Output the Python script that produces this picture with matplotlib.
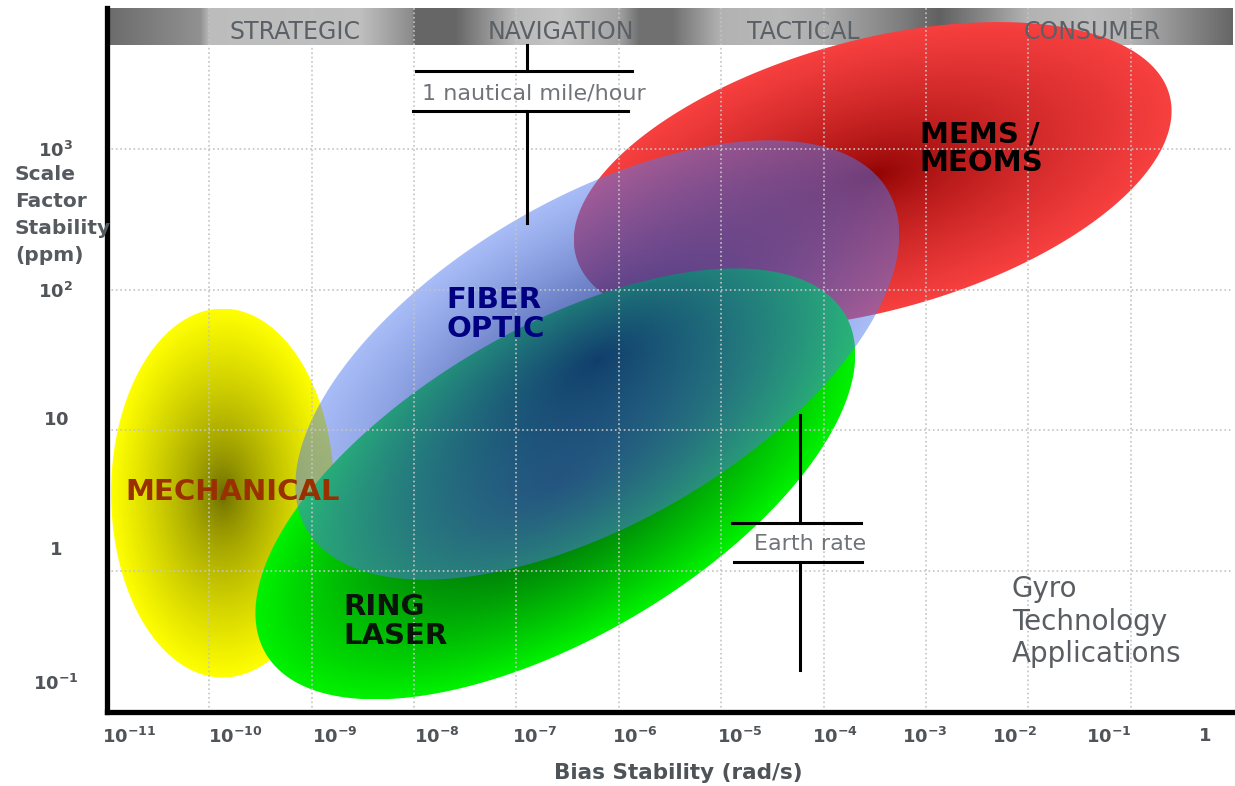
import numpy as np
import matplotlib.pyplot as plt
from matplotlib.patches import Polygon

# gyro technology regions (log10 bias stability in rad/s, log10 scale factor in ppm)
technologies = ['MECHANICAL', 'MEMS /\nMEOMS', 'RING\nLASER', 'FIBER\nOPTIC']
bias_center = [-9.87, -3.52, -6.62, -6.21]
bias_halfrange = [1.09, 2.92, 2.93, 2.95]
sf_center = [0.555, 2.81, 0.62, 1.50]
sf_halfrange = [1.31, 1.09, 1.53, 1.56]
tilt = [0.0, 0.42, 0.60, 0.57]

# application classes along the top
classes = ['STRATEGIC', 'NAVIGATION', 'TACTICAL', 'CONSUMER']

# reference rates (log10 rad/s)
nautical_mile_hour = -6.90
earth_rate = -4.23

x_tick_labels = [r'$\mathbf{10^{-11}}$', r'$\mathbf{10^{-10}}$', r'$\mathbf{10^{-9}}$',
                 r'$\mathbf{10^{-8}}$', r'$\mathbf{10^{-7}}$', r'$\mathbf{10^{-6}}$',
                 r'$\mathbf{10^{-5}}$', r'$\mathbf{10^{-4}}$', r'$\mathbf{10^{-3}}$',
                 r'$\mathbf{10^{-2}}$', r'$\mathbf{10^{-1}}$', r'$\mathbf{1}$']
y_tick_labels = [r'$\mathbf{10^{3}}$', r'$\mathbf{10^{2}}$', r'$\mathbf{10}$',
                 r'$\mathbf{1}$', r'$\mathbf{10^{-1}}$']

# styling
center_colors = [(0.40, 0.40, 0.0), (0.55, 0.0, 0.0), (0.0, 0.30, 0.05), (0.08, 0.17, 0.50)]
edge_colors = [(1.0, 1.0, 0.0), (0.97, 0.25, 0.25), (0.0, 0.95, 0.0), (0.32, 0.48, 0.94)]
center_alpha = [1.0, 1.0, 1.0, 0.85]
edge_alpha = [1.0, 1.0, 1.0, 0.50]
gammas = [0.7, 0.7, 1.2, 1.0]
label_colors = ['#9a3000', 'black', '#0a140a', '#000080']
label_pos = [(-10.82, 0.56), (-3.06, 3.0), (-8.69, -0.36), (-7.68, 1.82)]

x_label_pos = [-10.78, -9.75, -8.77, -7.78, -6.82, -5.84, -4.82, -3.89, -3.01, -2.13, -1.21, -0.28]
y_label_pos = [3.0, 2.0, 1.09, 0.165, -0.79]
class_pos = [-9.16, -6.57, -4.20, -1.38]
band_bottom = 3.737

band_x = [-11.0, -10.09, -10.0, -8.53, -8.02, -8.0, -7.6, -7.0, -6.58, -6.0, -5.8, -5.48,
          -5.0, -4.43, -4.0, -3.26, -2.87, -2.38, -2.0, -1.4, -1.0, 0.0]
band_gray = [0.42, 0.57, 0.74, 0.75, 0.55, 0.40, 0.40, 0.73, 0.77, 0.64, 0.44, 0.44,
             0.70, 0.72, 0.68, 0.50, 0.38, 0.55, 0.70, 0.74, 0.70, 0.40]

fig = plt.figure(figsize=(12.35, 7.86), dpi=100)
ax = fig.add_axes([107 / 1235, 74 / 786, 1126 / 1235, 704 / 786])
ax.set_xlim(-11, 0)
ax.set_ylim(-1, 4)

# shaded band at the top
xs = np.linspace(-11, 0, 1400)
g = np.interp(xs, band_x, band_gray)
band = np.dstack([g, g, g])
ax.imshow(band, extent=[-11, 0, band_bottom, 4.0], aspect='auto', origin='lower',
          interpolation='bilinear', zorder=1.0)

# technology regions with radial shading
t = np.linspace(0, 2 * np.pi, 500)
for i in range(len(technologies)):
    cx, cy = bias_center[i], sf_center[i]
    hx, hy, rho = bias_halfrange[i], sf_halfrange[i], tilt[i]
    px = cx + hx * np.cos(t)
    py = cy + hy * (rho * np.cos(t) + np.sqrt(1 - rho ** 2) * np.sin(t))
    outline = Polygon(np.column_stack([px, py]), closed=True, transform=ax.transData)

    gx, gy = np.meshgrid(np.linspace(cx - hx, cx + hx, 500), np.linspace(cy - hy, cy + hy, 500))
    a = (gx - cx) / hx
    b = (gy - cy) / hy
    r = np.sqrt(np.clip((a ** 2 - 2 * rho * a * b + b ** 2) / (1 - rho ** 2), 0, None))
    f = np.clip(r, 0, 1) ** gammas[i]
    rgba = np.zeros(gx.shape + (4,))
    for k in range(3):
        rgba[..., k] = center_colors[i][k] + (edge_colors[i][k] - center_colors[i][k]) * f
    rgba[..., 3] = center_alpha[i] + (edge_alpha[i] - center_alpha[i]) * f
    im = ax.imshow(rgba, extent=[cx - hx, cx + hx, cy - hy, cy + hy], origin='lower',
                   aspect='auto', interpolation='bilinear', zorder=1.1 + 0.1 * i)
    im.set_clip_path(outline)

    ax.text(label_pos[i][0], label_pos[i][1], technologies[i], color=label_colors[i],
            fontsize=21, fontweight='bold', ha='left', va='center', linespacing=1.05, zorder=4)

# decade grid, drawn over the shaded regions
for d in range(-10, 0):
    ax.axvline(d, color='#c4c4c4', linestyle=':', linewidth=1.2, zorder=2.6)
for d in range(0, 4):
    ax.axhline(d, color='#c4c4c4', linestyle=':', linewidth=1.2, zorder=2.6)

ax.set_xticks(x_label_pos, x_tick_labels)
ax.set_yticks(y_label_pos, y_tick_labels)
ax.tick_params(which='both', length=0)
ax.tick_params(axis='x', labelsize=13, labelcolor='#505458', pad=11)
ax.tick_params(axis='y', labelsize=13, labelcolor='#505458', pad=37)
for lab in ax.get_yticklabels():
    lab.set_horizontalalignment('center')

for side in ['top', 'right']:
    ax.spines[side].set_visible(False)
for side in ['left', 'bottom']:
    ax.spines[side].set_linewidth(3.8)
    ax.spines[side].set_color('black')
    ax.spines[side].set_zorder(5)

# application classes
for name, xc in zip(classes, class_pos):
    ax.text(xc, 3.83, name, color='#5a6066', fontsize=17,
            ha='center', va='center', zorder=4)

# 1 nautical mile/hour marker
ax.plot([nautical_mile_hour, nautical_mile_hour], [band_bottom, 3.553], color='black', lw=2.2, zorder=3)
ax.plot([nautical_mile_hour, nautical_mile_hour], [3.268, 2.473], color='black', lw=2.2, zorder=3)
ax.plot([nautical_mile_hour - 1.08, nautical_mile_hour + 1.03], [3.553, 3.553], color='black', lw=2.2, zorder=3)
ax.plot([nautical_mile_hour - 1.11, nautical_mile_hour + 0.99], [3.268, 3.268], color='black', lw=2.2, zorder=3)
ax.text(nautical_mile_hour + 0.07, 3.39, '1 nautical mile/hour', color='#707478', fontsize=16,
        ha='center', va='center', zorder=4)

# Earth rate marker
ax.plot([earth_rate, earth_rate], [1.109, 0.342], color='black', lw=2.2, zorder=3)
ax.plot([earth_rate, earth_rate], [0.065, -0.702], color='black', lw=2.2, zorder=3)
ax.plot([earth_rate - 0.66, earth_rate + 0.60], [0.342, 0.342], color='black', lw=2.2, zorder=3)
ax.plot([earth_rate - 0.64, earth_rate + 0.61], [0.065, 0.065], color='black', lw=2.2, zorder=3)
ax.text(earth_rate + 0.10, 0.19, 'Earth rate', color='#707478', fontsize=16,
        ha='center', va='center', zorder=4)

ax.text(-2.16, -0.36, 'Gyro\nTechnology\nApplications', color='#5a5e62', fontsize=20,
        ha='left', va='center', linespacing=1.2, zorder=4)

fig.text(15 / 1235, 1 - 215 / 786, 'Scale\nFactor\nStability\n(ppm)', color='#555a60',
         fontsize=14.5, fontweight='bold', ha='left', va='center', linespacing=1.52)
fig.text(678 / 1235, 1 - 773 / 786, 'Bias Stability (rad/s)', color='#4e5358',
         fontsize=15.5, fontweight='bold', ha='center', va='center')

fig.savefig('out.png', dpi=100)
